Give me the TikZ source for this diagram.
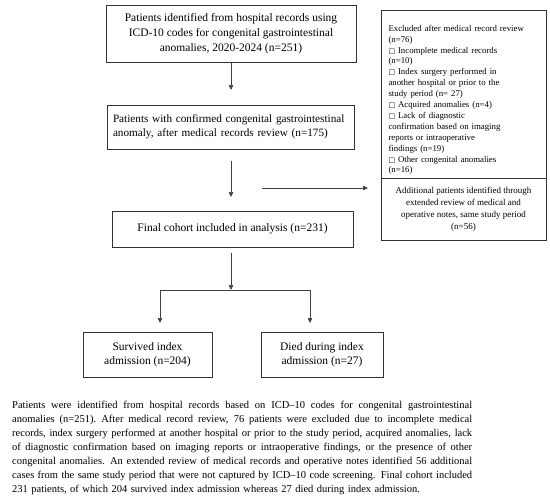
\documentclass[tikz,border=0pt]{standalone}
\usepackage{fontspec}
\setmainfont{Liberation Serif}
\newfontfamily\symf{DejaVu Sans}
\usetikzlibrary{arrows.meta}
\newcommand{\bx}{{\symf\fontsize{7}{7}\selectfont □}}
\newcommand{\jline}[1]{\hbox to 460pt{\spaceskip=0.25em plus 1em minus 0.06em\relax #1}}
\begin{document}
\begin{tikzpicture}[x=1pt,y=-1pt,
  box/.style={draw=black!80, line width=0.7pt, inner sep=0pt, font=\fontsize{11.5}{15}\selectfont},
  arr/.style={draw=black!75, line width=0.7pt, -{Triangle[length=5pt,width=4.5pt]}},
  ln/.style={draw=black!75, line width=0.7pt}]
\useasboundingbox (0,0) rectangle (550,504);
\node[box, minimum width=250, minimum height=57, align=center] (b1) at (231,33.5)
  {Patients identified from hospital records using\\ICD-10 codes for congenital gastrointestinal\\anomalies, 2020-2024 (n=251)};
\node[box, minimum width=247, minimum height=44, text width=235, align=left, font=\fontsize{11.2}{14.5}\selectfont] (b2) at (230.5,127)
  {Patients with confirmed congenital gastrointestinal\\anomaly, after medical records review (n=175)};
\node[box, minimum width=241, minimum height=36, align=center] (b3) at (232.5,229)
  {Final cohort included in analysis (n=231)};
\node[box, minimum width=165, minimum height=168, text width=150, align=left, font=\fontsize{8.8}{10.9}\selectfont] (ex) at (463.5,94)
  {\rule{0pt}{18pt}Excluded after medical record review\\(n=76)\\\bx{} Incomplete medical records\\(n=10)\\\bx{} Index surgery performed in\\another hospital or prior to the\\study period (n= 27)\\\bx{} Acquired anomalies (n=4)\\\bx{} Lack of diagnostic\\confirmation based on imaging\\reports or intraoperative\\findings (n=19)\\\bx{} Other congenital anomalies\\(n=16)};
\node[box, minimum width=165, minimum height=62, align=center, font=\fontsize{9}{12}\selectfont] (add) at (463.5,209)
  {Additional patients identified through\\extended review of medical and\\operative notes, same study period\\(n=56)};
\node[box, minimum width=129, minimum height=45, align=center, font=\fontsize{11.5}{13.5}\selectfont] (s1) at (147.5,354.5)
  {Survived index\\admission (n=204)};
\node[box, minimum width=122, minimum height=45, align=center, font=\fontsize{11.5}{13.5}\selectfont] (s2) at (322,354.5)
  {Died during index\\admission (n=27)};
\coordinate (a1e) at (231,90);
\coordinate (a2s) at (231,161);
\coordinate (a2e) at (231,197);
\coordinate (hs) at (262,188);
\coordinate (he) at (368,188);
\coordinate (a3s) at (231,253);
\coordinate (a3e) at (231,290);
\coordinate (jl) at (160,290);
\coordinate (jr) at (310,290);
\coordinate (tl) at (160,323);
\coordinate (tr) at (310,323);
\draw[arr] (b1.south) -- (a1e);
\draw[arr] (a2s) -- (a2e);
\draw[arr] (hs) -- (he);
\draw[arr] (a3s) -- (a3e);
\draw[ln] (jl) -- (jr);
\draw[arr] (jl) -- (tl);
\draw[arr] (jr) -- (tr);
\node[anchor=north west, inner sep=0pt, text width=460pt, align=left, font=\fontsize{10.5}{14}\selectfont] (cap) at (12,401)
  {\jline{Patients were identified from hospital records based on ICD–10 codes for congenital gastrointestinal}
   \jline{anomalies (n=251). After medical record review, 76 patients were excluded due to incomplete medical}
   \jline{records, index surgery performed at another hospital or prior to the study period, acquired anomalies, lack}
   \jline{of diagnostic confirmation based on imaging reports or intraoperative findings, or the presence of other}
   \jline{congenital anomalies. An extended review of medical records and operative notes identified 56 additional}
   \jline{cases from the same study period that were not captured by ICD–10 code screening. Final cohort included}
   \hbox{231 patients, of which 204 survived index admission whereas 27 died during index admission.}};
\end{tikzpicture}
\end{document}
